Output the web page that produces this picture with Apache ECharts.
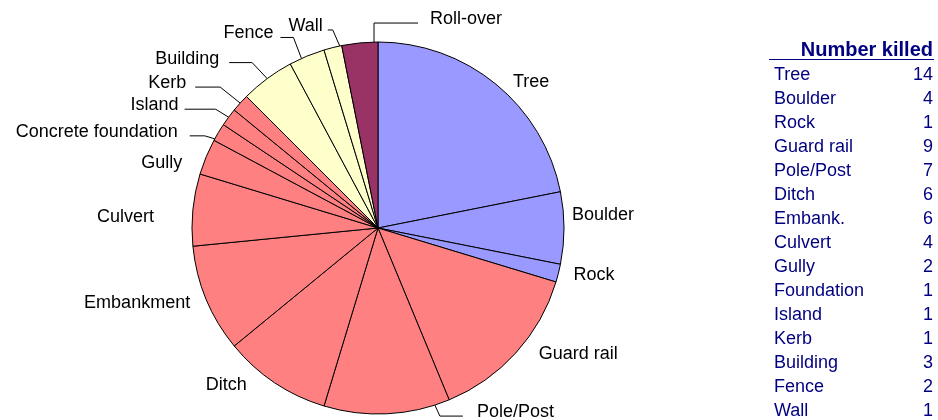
<!DOCTYPE html>
<html>
<head>
<meta charset="utf-8">
<script src="https://cdn.jsdelivr.net/npm/echarts@6/dist/echarts.min.js"></script>
<style>
  html, body { margin: 0; padding: 0; background: #ffffff; }
  #chart { width: 938px; height: 420px; }
</style>
</head>
<body>
<div id="chart"></div>
<script>
// Object struck, as named round the pie
const categories = ['Tree', 'Boulder', 'Rock', 'Guard rail', 'Pole/Post', 'Ditch', 'Embankment',
  'Culvert', 'Gully', 'Concrete foundation', 'Island', 'Kerb', 'Building', 'Fence', 'Wall', 'Roll-over'];
// Short names used in the side table
const tableLabels = ['Tree', 'Boulder', 'Rock', 'Guard rail', 'Pole/Post', 'Ditch', 'Embank.',
  'Culvert', 'Gully', 'Foundation', 'Island', 'Kerb', 'Building', 'Fence', 'Wall', 'Roll-over'];
// Number killed per object
const killed = [14, 4, 1, 9, 7, 6, 6, 4, 2, 1, 1, 1, 3, 2, 1, 2];
// Kind of object, drives the slice colour
const objectKind = ['natural', 'natural', 'natural', 'road', 'road', 'road', 'road',
  'road', 'road', 'road', 'road', 'road', 'built', 'built', 'built', 'rollover'];
const tableTitle = 'Number killed';

const kindColor = { natural: '#9999ff', road: '#ff8080', built: '#ffffcc', rollover: '#993366' };

const CX = 378, CY = 228, R = 186;
const FONT = '"Liberation Sans", Arial, sans-serif';
// 'middle' sits a little high for this face; nudge text down so the capitals are centred
const TEXT_DROP = 2;

// Label placement round the pie: plain labels are offset from the arc midpoint,
// leader-line labels go from the arc (turned by `turn` degrees) to an elbow, then run sideways.
const labelPlace = {
  'Tree': { dx: 17, dy: -4 },
  'Boulder': { dx: 8, dy: -15 },
  'Rock': { dx: 15, dy: 0 },
  'Guard rail': { dx: 23, dy: -1 },
  'Pole/Post': { turn: -15, elbow: [5, 11], run: 23, gap: 14 },
  'Ditch': { dx: -28, dy: 0 },
  'Embankment': { dx: -16, dy: 2 },
  'Culvert': { dx: -39, dy: 5 },
  'Gully': { dx: -24, dy: 4 },
  'Concrete foundation': { turn: -2.3, elbow: [-10, -3], run: -15, gap: 12 },
  'Island': { turn: 0, elbow: [-13, -8], run: -31, gap: 6 },
  'Kerb': { turn: 0, elbow: [-20, -16], run: -25, gap: 9 },
  'Building': { turn: 0, elbow: [-15, -16], run: -23, gap: 10 },
  'Fence': { turn: -1.8, elbow: [-8, -21], run: -13, gap: 7 },
  'Wall': { turn: 2.2, elbow: [-7, -16], run: -5, gap: 5 },
  'Roll-over': { turn: 4.4, elbow: [0, -19], run: 44, gap: 12 }
};

const total = killed.reduce((a, b) => a + b, 0);

// Mid angle of a slice, degrees clockwise from twelve o'clock
function midAngle(i) {
  let before = 0;
  for (let j = 0; j < i; j++) before += killed[j];
  return (before + killed[i] / 2) / total * 360;
}
function arcPoint(deg) {
  const a = deg * Math.PI / 180;
  return [CX + R * Math.sin(a), CY - R * Math.cos(a)];
}

const chart = echarts.init(document.getElementById('chart'), null, { renderer: 'canvas' });

const tableGraphics = [
  {
    type: 'text', x: 933, y: 48.5 + TEXT_DROP, silent: true,
    style: { text: tableTitle, align: 'right', verticalAlign: 'middle',
      font: 'bold 20px ' + FONT, fill: '#000080' }
  },
  {
    type: 'line', silent: true,
    shape: { x1: 769, y1: 59.5, x2: 934, y2: 59.5 },
    style: { stroke: '#000080', lineWidth: 1 }
  }
];
tableLabels.forEach((name, i) => {
  const y = 73 + 24 * i + TEXT_DROP;
  tableGraphics.push({
    type: 'text', x: 774, y: y, silent: true,
    style: { text: name, align: 'left', verticalAlign: 'middle', font: '18px ' + FONT, fill: '#000080' }
  });
  tableGraphics.push({
    type: 'text', x: 933, y: y, silent: true,
    style: { text: String(killed[i]), align: 'right', verticalAlign: 'middle', font: '18px ' + FONT, fill: '#000080' }
  });
});

chart.setOption({
  animation: false,
  backgroundColor: '#ffffff',
  graphic: tableGraphics,
  series: [{
    type: 'pie',
    center: [CX, CY],
    radius: R,
    startAngle: 90,
    clockwise: true,
    silent: true,
    avoidLabelOverlap: false,
    emphasis: { disabled: true },
    itemStyle: { borderColor: '#000000', borderWidth: 1 },
    label: {
      show: true,
      position: 'outside',
      formatter: '{b}',
      fontSize: 18,
      fontFamily: FONT,
      color: '#000000',
      bleedMargin: 0
    },
    labelLine: {
      show: true,
      length: 10,
      length2: 10,
      smooth: false,
      lineStyle: { color: '#000000', width: 1 }
    },
    labelLayout: function (p) {
      const name = categories[p.dataIndex];
      const place = labelPlace[name];
      const mid = midAngle(p.dataIndex);
      if (place.run !== undefined) {
        const s = arcPoint(mid + place.turn);
        const e = [s[0] + place.elbow[0], s[1] + place.elbow[1]];
        const t = [e[0] + place.run, e[1]];
        const dir = place.run >= 0 ? 1 : -1;
        return {
          x: t[0] + dir * place.gap,
          y: t[1] - 6 + TEXT_DROP,
          align: dir > 0 ? 'left' : 'right',
          verticalAlign: 'middle',
          labelLinePoints: [s, e, t]
        };
      }
      const m = arcPoint(mid);
      return {
        x: m[0] + place.dx,
        y: m[1] + place.dy + TEXT_DROP,
        align: place.dx >= 0 ? 'left' : 'right',
        verticalAlign: 'middle'
      };
    },
    data: categories.map((name, i) => ({
      name: name,
      value: killed[i],
      itemStyle: { color: kindColor[objectKind[i]] },
      labelLine: { show: labelPlace[name].run !== undefined }
    }))
  }]
});
</script>
</body>
</html>
